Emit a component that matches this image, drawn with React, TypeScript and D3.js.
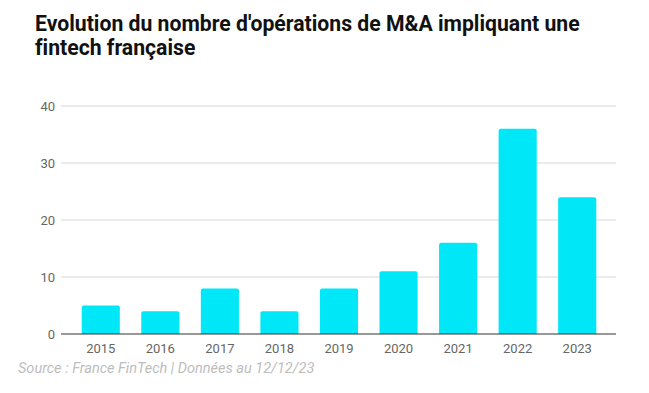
import React from "react";
import * as d3 from "d3";

const years = ["2015", "2016", "2017", "2018", "2019", "2020", "2021", "2022", "2023"];
const deals = [5, 4, 8, 4, 8, 11, 16, 36, 24];
const yTicks = [0, 10, 20, 30, 40];
const titleLines = ["Evolution du nombre d'opérations de M&A impliquant une", "fintech française"];
const sourceText = "Source : France FinTech | Données au 12/12/23";

export default function App() {
  const W = 649, H = 393;
  const x = d3.scaleBand<string>().domain(years).range([71, 607]).paddingInner(0.36).paddingOuter(0.18);
  const y = d3.scaleLinear().domain([0, 40]).range([334, 106]);
  return (
    <svg width={W} height={H} style={{ position: "absolute", left: 0, top: 0, fontFamily: "Roboto, sans-serif", fontVariantLigatures: "none" }}>
      <rect width={W} height={H} fill="#fff" />
      {titleLines.map((t, i) => (
        <text key={i} x={35} y={31 + i * 24} fontSize={21.2} fontWeight={700} fill="#111">{t}</text>
      ))}
      {yTicks.map((t) => (
        <g key={t}>
          {t > 0 && <line x1={61} x2={616} y1={y(t)} y2={y(t)} stroke="#d6d6d6" strokeWidth={1} />}
          <text x={55} y={y(t)} dy="0.35em" textAnchor="end" fontSize={13} fill="#666">{t}</text>
        </g>
      ))}
      {years.map((yr, i) => (
        <path
          key={yr}
          d={(() => {
            const x0 = x(yr)!, w = x.bandwidth(), top = y(deals[i]), b = y(0), r = 2;
            return `M${x0},${b}V${top + r}Q${x0},${top} ${x0 + r},${top}H${x0 + w - r}Q${x0 + w},${top} ${x0 + w},${top + r}V${b}Z`;
          })()}
          fill="#00e8f8"
        />
      ))}
      <line x1={61} x2={616} y1={y(0)} y2={y(0)} stroke="#333" strokeWidth={1} />
      {years.map((yr) => (
        <text key={yr} x={x(yr)! + x.bandwidth() / 2} y={353} textAnchor="middle" fontSize={13} fill="#666">{yr}</text>
      ))}
      <text x={18} y={373} fontSize={14.5} fontStyle="italic" fill="#bdbdbd">{sourceText}</text>
    </svg>
  );
}
